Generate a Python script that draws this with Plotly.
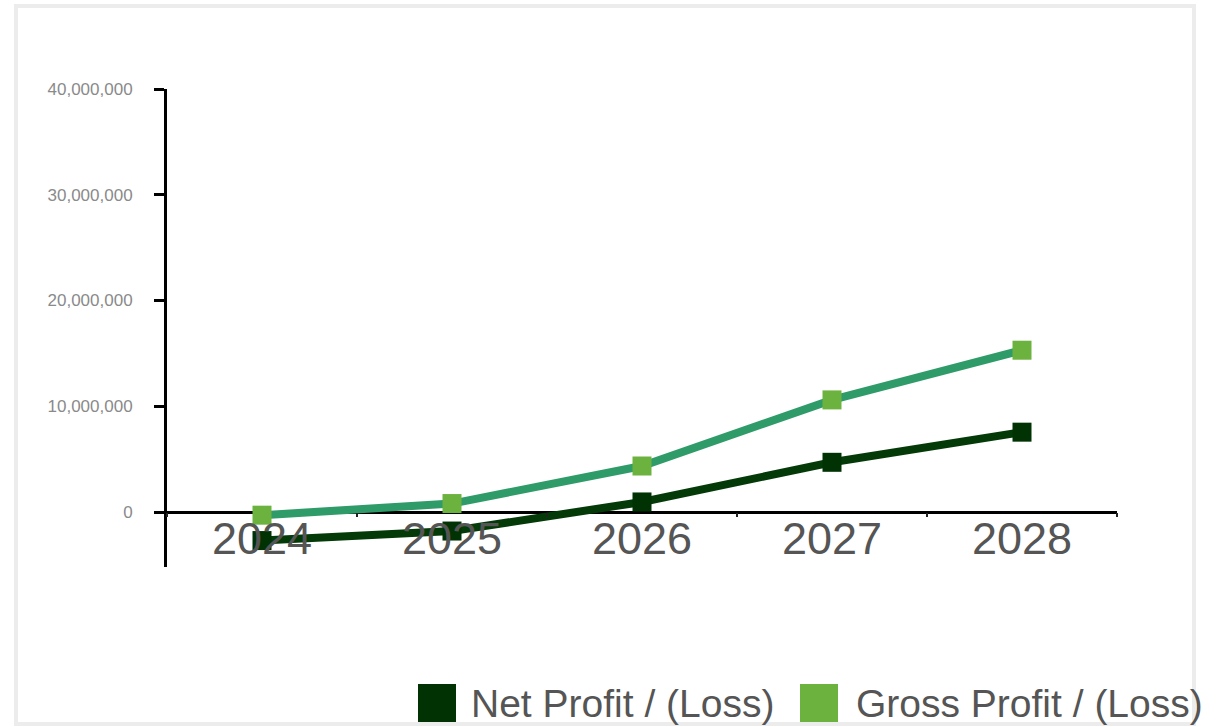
import plotly.graph_objects as go

# Forecast years and profit series (currency units)
years = ["2024", "2025", "2026", "2027", "2028"]
net_profit = [-2_700_000, -1_800_000, 950_000, 4_700_000, 7_550_000]
gross_profit = [-300_000, 800_000, 4_350_000, 10_600_000, 15_300_000]
series_names = ["Net Profit / (Loss)", "Gross Profit / (Loss)"]
y_ticks = [0, 10_000_000, 20_000_000, 30_000_000, 40_000_000]

NET_LINE, NET_MARK = "#033a08", "#013204"
GROSS_LINE, GROSS_MARK = "#2f9b69", "#6cb23f"
FONT = "Liberation Sans, Arial, sans-serif"

W, H = 1217, 727
L, R, T, B = 167, 100, 89, 160
pw, ph = W - L - R, H - T - B


def px(x):
    return (x - L) / pw


def py(y):
    return (H - B - y) / ph


fig = go.Figure()
fig.add_trace(go.Scatter(
    x=years, y=net_profit, name=series_names[0], mode="lines+markers",
    line=dict(color=NET_LINE, width=8),
    marker=dict(symbol="square", size=19, color=NET_MARK),
    showlegend=False,
))
fig.add_trace(go.Scatter(
    x=years, y=gross_profit, name=series_names[1], mode="lines+markers",
    line=dict(color=GROSS_LINE, width=8),
    marker=dict(symbol="square", size=19, color=GROSS_MARK),
    showlegend=False,
))

ymin, ymax = -5_200_000, 40_000_000
zero_pos = (0 - ymin) / (ymax - ymin)

fig.update_layout(
    width=W, height=H,
    margin=dict(l=L, r=R, t=T, b=B, pad=0),
    paper_bgcolor="white", plot_bgcolor="white",
    font=dict(family=FONT),
    xaxis=dict(
        type="category", range=[-0.5, 4.5],
        showgrid=False, zeroline=False, showline=False,
        anchor="free", position=zero_pos,
        ticks="outside", tickson="boundaries", ticklen=4, tickwidth=2,
        tickcolor="#222",
        tickfont=dict(size=45, color="#555555", family=FONT),
        ticklabelstandoff=-4,
    ),
    yaxis=dict(
        range=[ymin, ymax], tickvals=y_ticks, tickformat=",d",
        showgrid=False, showline=True, linecolor="black", linewidth=3,
        zeroline=True, zerolinecolor="black", zerolinewidth=3,
        ticks="outside", ticklen=10, tickwidth=3, tickcolor="black",
        tickfont=dict(size=17, color="#8a8a8a", family=FONT),
        ticklabelstandoff=18,
    ),
)

# Outer frame
fig.add_shape(type="rect", xref="paper", yref="paper",
              x0=px(16), x1=px(1194), y0=py(6), y1=py(724),
              line=dict(color="#ececec", width=4), layer="below")

# Legend swatches and labels along the bottom
legend_items = [
    (418, 469, NET_MARK, series_names[0]),
    (800, 854, GROSS_MARK, series_names[1]),
]
for sx, tx, col, label in legend_items:
    fig.add_shape(type="rect", xref="paper", yref="paper",
                  x0=px(sx), x1=px(sx + 38), y0=py(684), y1=py(722),
                  line=dict(width=0), fillcolor=col)
    fig.add_annotation(xref="paper", yref="paper", x=px(tx), y=py(703),
                       xanchor="left", yanchor="middle", showarrow=False,
                       text=label,
                       font=dict(size=39, color="#555555", family=FONT))

fig.write_html("out.html")
